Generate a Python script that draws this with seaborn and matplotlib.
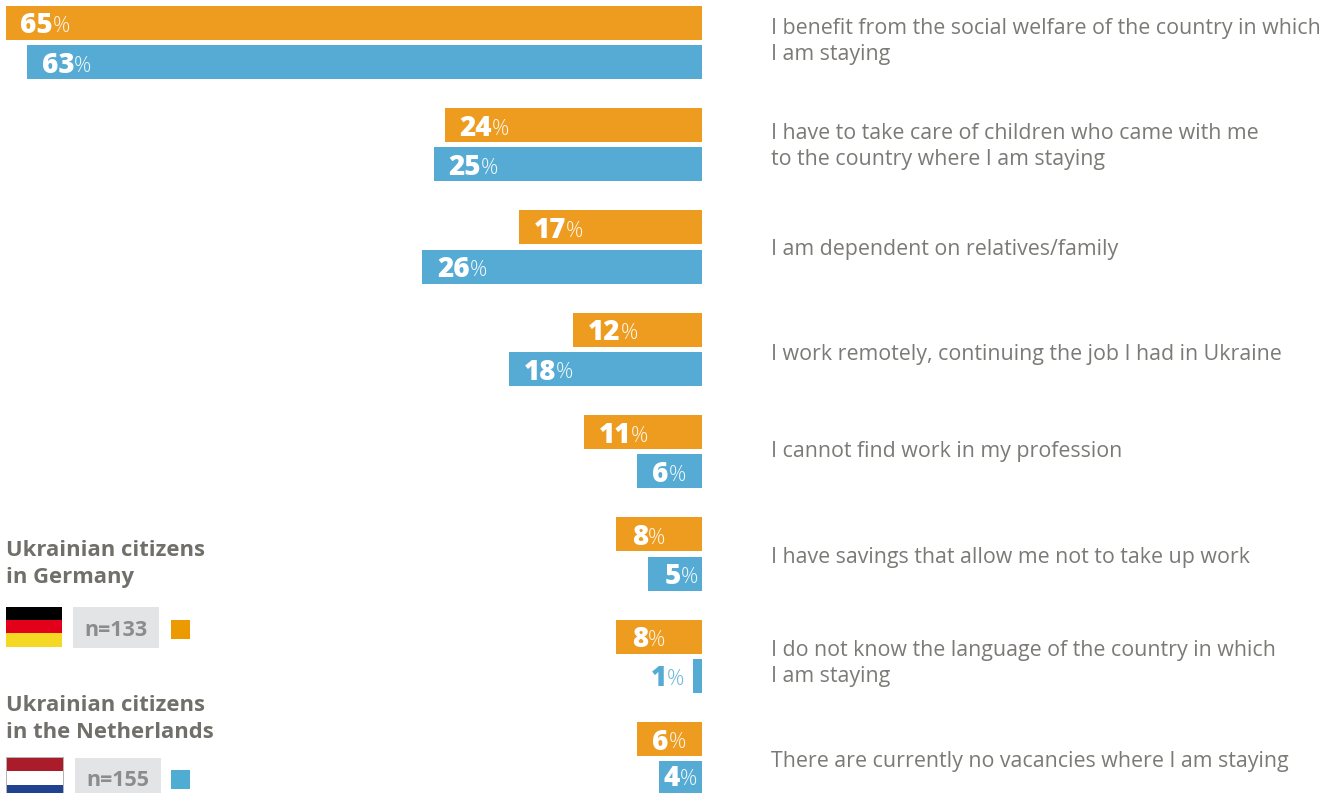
import matplotlib
matplotlib.use("Agg")
import matplotlib.pyplot as plt
import seaborn as sns
import pandas as pd
from matplotlib.patches import Rectangle

statements = [
    "I benefit from the social welfare of the country in which\nI am staying",
    "I have to take care of children who came with me\nto the country where I am staying",
    "I am dependent on relatives/family",
    "I work remotely, continuing the job I had in Ukraine",
    "I cannot find work in my profession",
    "I have savings that allow me not to take up work",
    "I do not know the language of the country in which\nI am staying",
    "There are currently no vacancies where I am staying",
]
germany = [65, 24, 17.1, 12, 11, 8, 8, 6.1]
netherlands = [63, 25, 26.1, 18, 6.1, 5, 0.85, 4]
series_names = ["Ukrainian citizens in Germany", "Ukrainian citizens in the Netherlands"]

ORANGE, BLUE = "#EE9C1F", "#55ABD3"
GREY, DARK = "#7B7A76", "#706F6A"
W, H = 1330, 793

sns.set_theme(style="white")
plt.rcParams["font.family"] = ["Open Sans", "DejaVu Sans"]

df = pd.DataFrame({
    "statement": statements * 2,
    "share": germany + netherlands,
    "group": [series_names[0]] * 8 + [series_names[1]] * 8,
})

fig = plt.figure(figsize=(W / 100, H / 100), dpi=100, facecolor="white")
ax = fig.add_axes([0, 0, 1, 1])
sns.barplot(data=df, y="statement", x="share", hue="group", order=statements,
            hue_order=series_names, palette=[ORANGE, BLUE], saturation=1,
            width=0.768, gap=0.135, linewidth=0, legend=False, ax=ax)

# pixel calibration: 0 % at x=702, 10.71 px per %, rows 102.3 px apart
PX_PER_PCT, ROW = 10.71, 102.3
ax.set_xlim(702 / PX_PER_PCT, (702 - W) / PX_PER_PCT)
ax.set_ylim((H - 42.5) / ROW, -42.5 / ROW)
ax.axis("off")


def value_label(value, row, shift, colour=None):
    """Bold number plus light % sign, anchored on the free end of the bar."""
    col = "white" if colour is None else colour
    shown = round(value)
    dy = -3
    if colour is not None:
        dx = -26
    elif shown == 4:
        dx, dy = 21, 0   # narrow bar at the picture's bottom edge
    elif shown < 10:
        dx = 32
    else:
        dx = 47
    y = row + shift / ROW
    ax.annotate(str(shown), (value, y), xytext=(dx, dy), textcoords="offset pixels",
                ha="right", va="center", color=col, fontsize=20, fontweight=800)
    ax.annotate("%", (value, y), xytext=(dx, dy - 1), textcoords="offset pixels",
                ha="left", va="center", color=col, fontsize=15.5, fontweight=300,
                alpha=0.9 if colour is None else 0.85)


for i, (g, n) in enumerate(zip(germany, netherlands)):
    value_label(g, i, -19.6)
    value_label(n, i, 19.6, BLUE if n < 2 else None)

# statement labels: column starts at x=771
label_shift = [-1, 2, 2, 5, 0, 4, 7, 3]
for i, text in enumerate(statements):
    ax.annotate(text, (0, i + label_shift[i] / ROW), xytext=(69, 0),
                textcoords="offset pixels", ha="left", va="center", color=GREY,
                fontsize=15.4, linespacing=1.3)


def px_rect(x0, y0, x1, y1, colour):
    fig.add_artist(Rectangle((x0 / W, 1 - y1 / H), (x1 - x0) / W, (y1 - y0) / H,
                             transform=fig.transFigure, facecolor=colour,
                             edgecolor="none", clip_on=True))


def px_text(x, y, text, **kw):
    fig.text(x / W, 1 - y / H, text, va="center", **kw)


# legend block
px_text(6, 564, "Ukrainian citizens\nin Germany", ha="left", color=DARK, fontsize=15.8,
        fontweight="bold", linespacing=1.4)
for y0, y1, c in [(607, 620, "#000000"), (620, 633, "#E2001A"), (633, 647, "#F5D824")]:
    px_rect(6, y0, 62, y1, c)
px_rect(73, 607, 159, 648, "#E3E4E6")
px_text(116, 630, "n=133", ha="center", color="#8C8C8C", fontsize=15.5, fontweight="bold")
px_rect(171, 620, 190, 639, "#EB9A00")

px_text(6, 719, "Ukrainian citizens\nin the Netherlands", ha="left", color=DARK, fontsize=15.8,
        fontweight="bold", linespacing=1.4)
px_rect(6, 757, 64, 793, "#B4B4B4")
for y0, y1, c in [(758, 771, "#AA1C2A"), (771, 785, "#FFFFFF"), (785, 793, "#1F4390")]:
    px_rect(7, y0, 63, y1, c)
px_rect(75, 758, 161, 793, "#E3E4E6")
px_text(118, 781, "n=155", ha="center", color="#8C8C8C", fontsize=15.5, fontweight="bold")
px_rect(171, 770, 190, 789, "#4FACD2")

fig.savefig("out.png", dpi=100, facecolor="white")
